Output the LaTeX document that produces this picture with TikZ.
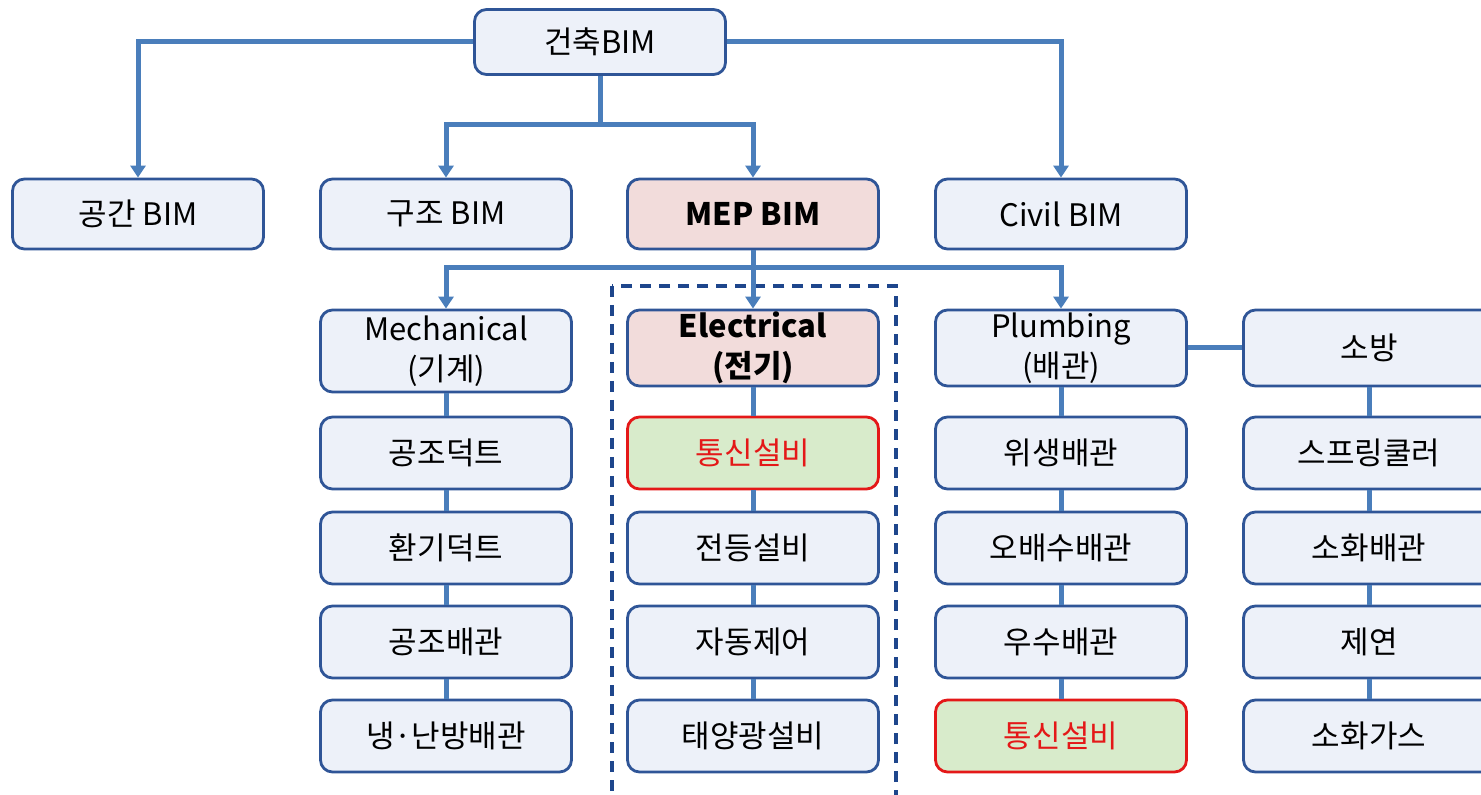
\documentclass[tikz,border=0pt]{standalone}
\usepackage{fontspec}
\setmainfont{Noto Sans CJK KR}
\usetikzlibrary{arrows.meta}

\definecolor{boxfill}{RGB}{237,241,249}
\definecolor{boxline}{RGB}{47,85,151}
\definecolor{linkblue}{RGB}{74,126,187}
\definecolor{mepfill}{RGB}{242,220,219}
\definecolor{telfill}{RGB}{216,235,203}
\definecolor{telred}{RGB}{228,24,24}
\definecolor{groupline}{RGB}{30,70,140}

\tikzset{
  bimbox/.style={draw=boxline, fill=boxfill, line width=1.4pt, rounded corners=6pt,
    minimum width=125.5pt, minimum height=36pt, inner sep=0pt, align=center,
    font=\fontsize{15.5}{20}\selectfont},
  mepbox/.style={bimbox, fill=mepfill, font=\fontsize{15.5}{20}\selectfont\bfseries},
  telbox/.style={bimbox, draw=telred, fill=telfill, text=telred},
  link/.style={draw=linkblue, line width=2.5pt},
  linkarrow/.style={link, -{Triangle[length=6pt, width=7.5pt]}}
}

\begin{document}
\begin{tikzpicture}[x=0.5pt, y=-0.5pt]
  \useasboundingbox (0,0) rectangle (1481,795);

  % Electrical group frame
  \draw[groupline, line width=1.6pt, dash pattern=on 5.5pt off 4pt] (612,286) rectangle (896,810);

  % Top level
  \node[bimbox, minimum height=32.5pt] (arch) at (600,42) {건축BIM};

  % BIM disciplines
  \node[bimbox, minimum height=35pt] (space) at (138,214) {공간 BIM};
  \node[bimbox, minimum height=35pt] (struct) at (446,214) {구조 BIM};
  \node[mepbox, minimum height=35pt] (mep) at (753,214) {MEP BIM};
  \node[bimbox, minimum height=35pt] (civil) at (1061,214) {Civil BIM};

  % MEP branches
  \node[bimbox, minimum height=41pt] (mech) at (446,351) {Mechanical\\(기계)};
  \node[mepbox, minimum height=38pt] (elec) at (753,348) {Electrical\\(전기)};
  \node[bimbox, minimum height=38pt] (plumb) at (1061,348) {Plumbing\\(배관)};
  \node[bimbox, minimum height=38pt] (fire) at (1369,348) {소방};

  % Mechanical column
  \node[bimbox] (mech1) at (446,453) {공조덕트};
  \node[bimbox] (mech2) at (446,548) {환기덕트};
  \node[bimbox] (mech3) at (446,642) {공조배관};
  \node[bimbox] (mech4) at (446,736) {냉·난방배관};

  % Electrical column
  \node[telbox] (elec1) at (753,453) {통신설비};
  \node[bimbox] (elec2) at (753,548) {전등설비};
  \node[bimbox] (elec3) at (753,642) {자동제어};
  \node[bimbox] (elec4) at (753,736) {태양광설비};

  % Plumbing column
  \node[bimbox] (plumb1) at (1061,453) {위생배관};
  \node[bimbox] (plumb2) at (1061,548) {오배수배관};
  \node[bimbox] (plumb3) at (1061,642) {우수배관};
  \node[telbox] (plumb4) at (1061,736) {통신설비};

  % Fire column
  \node[bimbox] (fire1) at (1369,453) {스프링쿨러};
  \node[bimbox] (fire2) at (1369,548) {소화배관};
  \node[bimbox] (fire3) at (1369,642) {제연};
  \node[bimbox] (fire4) at (1369,736) {소화가스};

  % Top connectors
  \coordinate (archsplit) at (600,125);
  \draw[linkarrow] (arch.west) -| (space.north);
  \draw[linkarrow] (arch.east) -| (civil.north);
  \draw[link] (arch.south) -- (archsplit);
  \draw[linkarrow] (archsplit) -| (struct.north);
  \draw[linkarrow] (archsplit) -| (mep.north);

  % MEP connectors
  \coordinate (mepsplit) at (753,268);
  \draw[link] (mep.south) -- (mepsplit);
  \draw[linkarrow] (mepsplit) -| (mech.north);
  \draw[linkarrow] (mepsplit) -- (elec.north);
  \draw[linkarrow] (mepsplit) -| (plumb.north);
  \draw[link] (plumb.east) -- (fire.west);

  % Column chains
  \foreach \col in {mech, elec, plumb, fire} {
    \draw[link] (\col.south) -- (\col1.north);
    \draw[link] (\col1.south) -- (\col2.north);
    \draw[link] (\col2.south) -- (\col3.north);
    \draw[link] (\col3.south) -- (\col4.north);
  }
\end{tikzpicture}
\end{document}
